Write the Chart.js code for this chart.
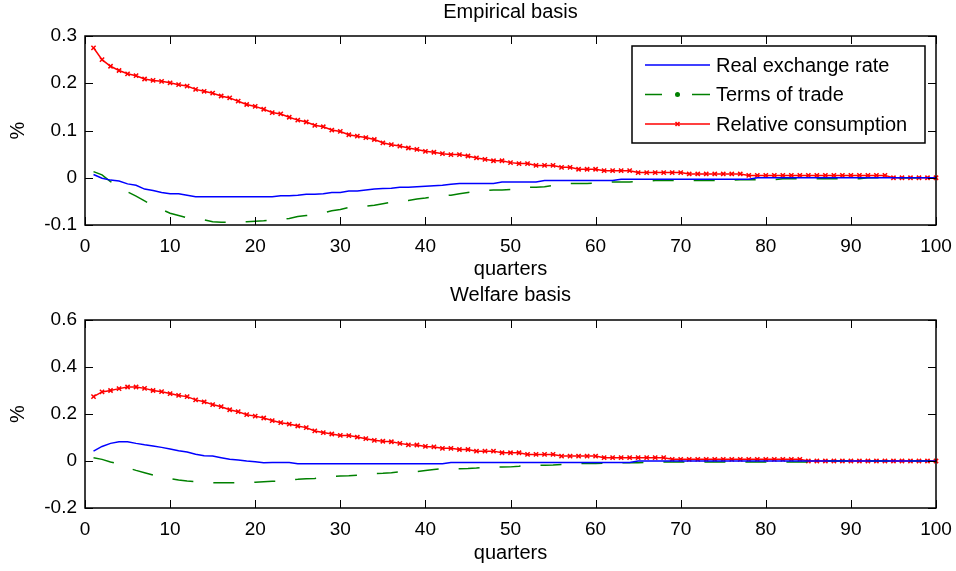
<!DOCTYPE html>
<html>
<head>
<meta charset="utf-8">
<script src="https://cdn.jsdelivr.net/npm/chart.js@4.4.0/dist/chart.umd.min.js"></script>
<style>
body { margin: 0; background: #fff; }
#wrap { position: relative; width: 956px; height: 571px; }
canvas { position: absolute; left: 0; }
</style>
</head>
<body>
<div id="wrap">
<canvas id="empirical" width="956" height="285" style="top:0"></canvas>
<canvas id="welfare" width="956" height="286" style="top:285px"></canvas>
</div>
<script>
const quarters = Array.from({length: 100}, (_, i) => i + 1);

// Empirical basis
const empRER = [
    0.007, -0.001, -0.005, -0.007, -0.013, -0.016, -0.024, -0.027, -0.031, -0.034,
    -0.034, -0.037, -0.040, -0.040, -0.040, -0.040, -0.040, -0.040, -0.040, -0.040,
    -0.040, -0.040, -0.038, -0.038, -0.037, -0.035, -0.035, -0.034, -0.031, -0.031,
    -0.028, -0.028, -0.026, -0.024, -0.023, -0.022, -0.020, -0.020, -0.019, -0.018,
    -0.017, -0.016, -0.014, -0.012, -0.012, -0.012, -0.012, -0.012, -0.009, -0.009,
    -0.009, -0.009, -0.009, -0.006, -0.006, -0.006, -0.006, -0.006, -0.006, -0.006,
    -0.006, -0.006, -0.003, -0.003, -0.003, -0.003, -0.003, -0.003, -0.003, -0.003,
    -0.003, -0.003, -0.003, -0.003, -0.003, -0.003, -0.003, -0.003, 0, 0,
    0, 0, 0, 0, 0, 0, 0, 0, 0, 0,
    0, 0, 0, 0, 0, 0, 0, 0, 0, 0
];
const empTOT = [
    0.013, 0.006, -0.008, -0.019, -0.030, -0.039, -0.049, -0.059, -0.067, -0.075,
    -0.080, -0.085, -0.087, -0.089, -0.093, -0.094, -0.094, -0.094, -0.093, -0.092,
    -0.091, -0.089, -0.088, -0.086, -0.082, -0.080, -0.078, -0.074, -0.070, -0.067,
    -0.063, -0.061, -0.060, -0.058, -0.055, -0.052, -0.050, -0.048, -0.045, -0.043,
    -0.040, -0.038, -0.037, -0.034, -0.031, -0.028, -0.027, -0.026, -0.026, -0.025,
    -0.021, -0.020, -0.020, -0.019, -0.016, -0.013, -0.012, -0.012, -0.012, -0.011,
    -0.010, -0.009, -0.009, -0.009, -0.008, -0.007, -0.006, -0.006, -0.006, -0.006,
    -0.006, -0.006, -0.006, -0.006, -0.006, -0.005, -0.004, -0.004, -0.004, -0.004,
    -0.004, -0.002, -0.002, -0.002, -0.002, -0.002, -0.002, -0.002, -0.002, -0.002,
    -0.002, 0, 0, 0, 0, 0, 0, 0, 0, 0
];
const empRC = [
    0.275, 0.250, 0.236, 0.227, 0.220, 0.216, 0.209, 0.206, 0.204, 0.201,
    0.197, 0.194, 0.187, 0.183, 0.179, 0.173, 0.169, 0.162, 0.155, 0.151,
    0.145, 0.138, 0.135, 0.128, 0.122, 0.118, 0.111, 0.108, 0.101, 0.098,
    0.091, 0.088, 0.085, 0.081, 0.074, 0.070, 0.067, 0.063, 0.060, 0.056,
    0.054, 0.051, 0.049, 0.049, 0.046, 0.042, 0.039, 0.036, 0.036, 0.032,
    0.030, 0.030, 0.026, 0.026, 0.026, 0.022, 0.022, 0.018, 0.018, 0.018,
    0.015, 0.015, 0.015, 0.015, 0.011, 0.011, 0.011, 0.011, 0.011, 0.011,
    0.008, 0.008, 0.008, 0.008, 0.008, 0.008, 0.008, 0.005, 0.005, 0.005,
    0.005, 0.005, 0.005, 0.005, 0.005, 0.005, 0.005, 0.005, 0.005, 0.005,
    0.005, 0.005, 0.005, 0.005, 0, 0, 0, 0, 0, 0
];

// Welfare basis
const welRER = [
    0.042, 0.062, 0.075, 0.082, 0.082, 0.075, 0.069, 0.064, 0.058, 0.051,
    0.044, 0.038, 0.029, 0.022, 0.021, 0.014, 0.007, 0.004, 0.000, -0.003,
    -0.007, -0.006, -0.006, -0.006, -0.012, -0.012, -0.012, -0.012, -0.012, -0.012,
    -0.012, -0.012, -0.012, -0.012, -0.012, -0.012, -0.012, -0.012, -0.012, -0.012,
    -0.012, -0.012, -0.006, -0.006, -0.006, -0.006, -0.006, -0.006, -0.006, -0.006,
    -0.006, -0.006, -0.006, -0.006, -0.006, -0.006, -0.006, -0.006, -0.006, -0.006,
    -0.006, -0.006, -0.006, -0.006, 0, 0, 0, 0, 0, 0,
    0, 0, 0, 0, 0, 0, 0, 0, 0, 0,
    0, 0, 0, 0, 0, 0, 0, 0, 0, 0,
    0, 0, 0, 0, 0, 0, 0, 0, 0, 0
];
const welTOT = [
    0.014, 0.007, -0.004, -0.013, -0.029, -0.040, -0.050, -0.060, -0.068, -0.075,
    -0.081, -0.085, -0.088, -0.090, -0.092, -0.093, -0.093, -0.093, -0.092, -0.090,
    -0.088, -0.086, -0.085, -0.079, -0.078, -0.076, -0.074, -0.069, -0.065, -0.064,
    -0.063, -0.060, -0.057, -0.053, -0.052, -0.050, -0.046, -0.046, -0.045, -0.040,
    -0.036, -0.033, -0.033, -0.033, -0.032, -0.030, -0.026, -0.026, -0.026, -0.025,
    -0.022, -0.018, -0.018, -0.018, -0.017, -0.015, -0.012, -0.011, -0.011, -0.011,
    -0.009, -0.008, -0.007, -0.007, -0.007, -0.006, -0.005, -0.004, -0.004, -0.004,
    -0.004, -0.004, -0.004, -0.004, -0.004, -0.004, -0.004, -0.004, -0.004, -0.004,
    -0.004, -0.004, -0.004, -0.004, -0.004, 0, 0, 0, 0, 0,
    0, 0, 0, 0, 0, 0, 0, 0, 0, 0
];
const welRC = [
    0.274, 0.294, 0.300, 0.308, 0.315, 0.315, 0.309, 0.300, 0.295, 0.287,
    0.279, 0.274, 0.260, 0.252, 0.240, 0.231, 0.218, 0.210, 0.197, 0.191,
    0.183, 0.172, 0.163, 0.157, 0.149, 0.142, 0.128, 0.121, 0.115, 0.109,
    0.108, 0.102, 0.095, 0.088, 0.084, 0.082, 0.075, 0.069, 0.068, 0.062,
    0.060, 0.054, 0.054, 0.049, 0.049, 0.042, 0.042, 0.042, 0.035, 0.035,
    0.035, 0.028, 0.028, 0.028, 0.028, 0.021, 0.021, 0.021, 0.021, 0.021,
    0.014, 0.014, 0.014, 0.014, 0.014, 0.014, 0.014, 0.014, 0.007, 0.007,
    0.007, 0.007, 0.007, 0.007, 0.007, 0.007, 0.007, 0.007, 0.007, 0.007,
    0.007, 0.007, 0.007, 0.007, 0, 0, 0, 0, 0, 0,
    0, 0, 0, 0, 0, 0, 0, 0, 0, 0
];

const FONT = "'Liberation Sans', Arial, sans-serif";

function pts(vals) {
    return quarters.map((q, i) => ({x: q, y: vals[i]}));
}

// MATLAB style box with ticks pointing inwards
const boxTicks = {
    id: 'boxTicks',
    afterDatasetsDraw(chart) {
        const {ctx, chartArea: a, scales: {x, y}} = chart;
        ctx.save();
        ctx.strokeStyle = '#000';
        ctx.lineWidth = 1;
        ctx.beginPath();
        x.ticks.forEach(t => {
            const px = Math.round(x.getPixelForValue(t.value)) + 0.5;
            ctx.moveTo(px, a.bottom); ctx.lineTo(px, a.bottom - 8);
            ctx.moveTo(px, a.top); ctx.lineTo(px, a.top + 8);
        });
        y.ticks.forEach(t => {
            const py = Math.round(y.getPixelForValue(t.value)) + 0.5;
            ctx.moveTo(a.left, py); ctx.lineTo(a.left + 8, py);
            ctx.moveTo(a.right, py); ctx.lineTo(a.right - 8, py);
        });
        ctx.stroke();
        ctx.lineWidth = 1.5;
        ctx.strokeRect(a.left, a.top, a.width, a.height);
        ctx.restore();
    }
};

// title centred over the axes box, like MATLAB
const panelTitle = {
    id: 'panelTitle',
    afterDraw(chart, args, opts) {
        const {ctx, chartArea: a} = chart;
        ctx.save();
        ctx.font = '20px ' + FONT;
        ctx.fillStyle = '#000';
        ctx.textAlign = 'center';
        ctx.textBaseline = 'middle';
        ctx.fillText(opts.text, (a.left + a.right) / 2, a.top - opts.gap);
        ctx.restore();
    }
};

const boxLegend = {
    id: 'boxLegend',
    afterDraw(chart, args, opts) {
        if (!opts.show) return;
        const {ctx, chartArea: a} = chart;
        const w = 293, h = 97;
        const left = a.right - 11 - w, top = a.top + 10;
        ctx.save();
        ctx.fillStyle = '#fff';
        ctx.fillRect(left, top, w, h);
        ctx.strokeStyle = '#000';
        ctx.lineWidth = 1.5;
        ctx.strokeRect(left, top, w, h);
        ctx.font = '20px ' + FONT;
        ctx.textBaseline = 'middle';
        chart.data.datasets.forEach((ds, i) => {
            const cy = top + 19 + i * 29.5;
            ctx.strokeStyle = ds.borderColor;
            ctx.lineWidth = 1.5;
            ctx.beginPath();
            if (ds.borderDash) {
                ctx.moveTo(left + 13, cy); ctx.lineTo(left + 30, cy);
                ctx.moveTo(left + 60, cy); ctx.lineTo(left + 78, cy);
            } else {
                ctx.moveTo(left + 13, cy); ctx.lineTo(left + 78, cy);
            }
            ctx.stroke();
            const mx = left + 45.5;
            if (ds.legendMarker === 'dot') {
                ctx.fillStyle = ds.borderColor;
                ctx.beginPath();
                ctx.arc(mx, cy, 2.5, 0, Math.PI * 2);
                ctx.fill();
            } else if (ds.legendMarker === 'x') {
                ctx.beginPath();
                ctx.moveTo(mx - 2, cy - 2); ctx.lineTo(mx + 2, cy + 2);
                ctx.moveTo(mx - 2, cy + 2); ctx.lineTo(mx + 2, cy - 2);
                ctx.stroke();
            }
            ctx.fillStyle = '#000';
            ctx.fillText(ds.label, left + 84, cy + 1);
        });
        ctx.restore();
    }
};

function makePanel(id, title, rer, tot, rc, yMin, yMax, yStep, opt) {
    return new Chart(id, {
        type: 'line',
        data: {
            datasets: [
                {
                    label: 'Real exchange rate',
                    data: pts(rer),
                    borderColor: '#0000ff',
                    borderWidth: 1.5,
                    pointRadius: 0
                },
                {
                    label: 'Terms of trade',
                    data: pts(tot),
                    borderColor: '#008000',
                    borderWidth: 1.5,
                    borderDash: [21, 20],
                    pointRadius: 0,
                    legendMarker: 'dot'
                },
                {
                    label: 'Relative consumption',
                    data: pts(rc),
                    borderColor: '#ff0000',
                    borderWidth: 1.5,
                    pointStyle: 'crossRot',
                    pointRadius: 3,
                    pointBorderWidth: 1.5,
                    pointBorderColor: '#ff0000',
                    clip: false,
                    legendMarker: 'x'
                }
            ]
        },
        options: {
            responsive: false,
            animation: false,
            devicePixelRatio: 1,
            layout: {
                padding: {left: 0, right: 20, top: opt.top, bottom: 0}
            },
            plugins: {
                legend: {display: false},
                tooltip: {enabled: false},
                title: {display: false},
                panelTitle: {text: title, gap: opt.titleGap},
                boxLegend: {show: opt.legend}
            },
            scales: {
                x: {
                    type: 'linear',
                    min: 0,
                    max: 100,
                    grid: {display: false, drawTicks: false},
                    border: {display: false},
                    ticks: {
                        stepSize: 10,
                        color: '#000',
                        padding: 10.5,
                        maxRotation: 0,
                        font: {family: FONT, size: 19}
                    },
                    title: {
                        display: true,
                        text: 'quarters',
                        color: '#000',
                        font: {family: FONT, size: 20},
                        padding: {top: 0, bottom: opt.xTitlePad}
                    },
                    afterFit: s => {
                        s.height = opt.xHeight;
                        s.paddingLeft = 0;
                        s.paddingRight = 0;
                    }
                },
                y: {
                    min: yMin,
                    max: yMax,
                    grid: {display: false, drawTicks: false},
                    border: {display: false},
                    ticks: {
                        stepSize: yStep,
                        color: '#000',
                        padding: 8,
                        font: {family: FONT, size: 19},
                        callback: v => String(parseFloat(v.toFixed(1)))
                    },
                    title: {
                        display: true,
                        text: '%',
                        color: '#000',
                        font: {family: FONT, size: 20},
                        padding: {top: 6, bottom: 0}
                    },
                    afterFit: s => { s.width = 85; }
                }
            }
        },
        plugins: [boxTicks, panelTitle, boxLegend]
    });
}

makePanel('empirical', 'Empirical basis', empRER, empTOT, empRC, -0.1, 0.3, 0.1,
    {top: 36, titleGap: 24, xHeight: 60, xTitlePad: 4, legend: true});
makePanel('welfare', 'Welfare basis', welRER, welTOT, welRC, -0.2, 0.6, 0.2,
    {top: 35, titleGap: 25, xHeight: 63, xTitlePad: 6, legend: false});
</script>
</body>
</html>
